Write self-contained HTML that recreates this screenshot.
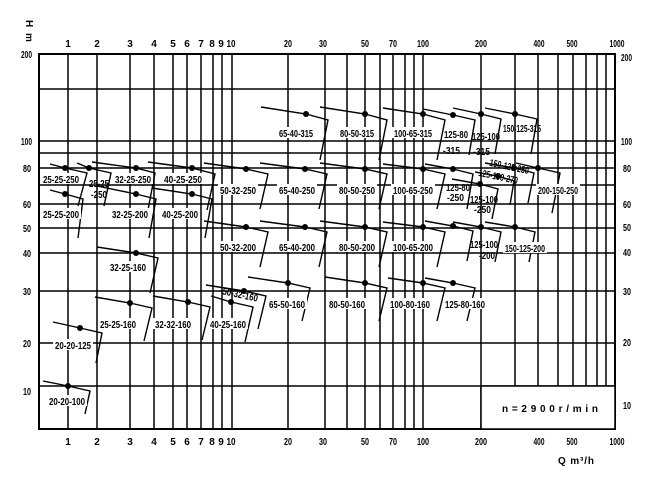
<!DOCTYPE html>
<html><head><meta charset="utf-8"><style>
html,body{margin:0;padding:0;background:#fff;}
svg{display:block;}
text{font-family:"Liberation Sans",sans-serif;font-weight:bold;font-size:10px;fill:#000;}
</style></head><body>
<svg width="650" height="488" viewBox="0 0 650 488" xmlns="http://www.w3.org/2000/svg">
<g stroke="#000" stroke-width="1.5" fill="none">
<!-- vertical grid full height -->
<path d="M68 54V429M97 54V429M130 54V429M154 54V429M173 54V429M187 54V429M201 54V429M213 54V429M222 54V429M232 54V429M288 54V429M325 54V429M347 54V429M365 54V429M380 54V429M393 54V429M405 54V429M414 54V429M423 54V429M481 54V429"/>
<path d="M515 54V386M538 54V386M558 54V386M573 54V386M586 54V386M597 54V386M606 54V386"/>
<!-- horizontal grid -->
<path d="M39 89H615M39 141H615M39 153H615M39 168H615M39 185H615M39 204H615M39 228H615M39 253H615M39 291H615M39 343H615M39 386H615"/>
</g>
<rect x="39" y="54" width="576" height="375" fill="none" stroke="#000" stroke-width="2"/>

<!-- pump curves -->
<g stroke="#000" stroke-width="1.4" fill="none">
<path d="M261 107L306 114L328 120L320 160"/>
<path d="M320 107L365 114L387 120L379 160"/>
<path d="M383 108L423 114L445 120L437 160"/>
<path d="M423 109L453 115L475 120L469 155"/>
<path d="M453 108L481 114L501 119L495 154"/>
<path d="M485 108L515 114L537 119L531 154"/>
<path d="M50 164L65 168L87 173L78 206"/>
<path d="M77 163L89 168L111 173L104 206"/>
<path d="M92 162L136 168L155 173L148 210"/>
<path d="M148 162L192 168L215 174L207 210"/>
<path d="M204 163L246 169L268 174L260 209"/>
<path d="M260 163L305 169L327 174L319 209"/>
<path d="M320 163L365 169L387 174L379 209"/>
<path d="M383 164L423 169L445 174L437 209"/>
<path d="M425 164L453 169L473 174L467 209"/>
<path d="M452 179L480 184L498 189L492 219"/>
<path d="M475 172L498 176L514 181L510 205"/>
<path d="M485 163L514 168L534 173L528 203"/>
<path d="M516 163L538 168L560 173L552 213"/>
<path d="M50 190L65 194L83 199L78 238"/>
<path d="M97 186L136 194L156 199L149 238"/>
<path d="M152 188L192 194L212 199L205 238"/>
<path d="M204 221L246 227L268 232L260 267"/>
<path d="M260 221L305 227L327 232L319 267"/>
<path d="M320 221L365 227L387 232L379 267"/>
<path d="M383 222L423 227L445 232L437 267"/>
<path d="M425 221L453 226L473 231L467 261"/>
<path d="M453 222L481 227L501 232L495 262"/>
<path d="M485 222L515 227L535 232L529 262"/>
<path d="M97 247L136 253L158 258L150 293"/>
<path d="M248 277L288 283L310 288L302 321"/>
<path d="M325 277L365 283L387 288L379 321"/>
<path d="M388 278L423 283L445 288L437 321"/>
<path d="M425 278L453 283L475 288L467 321"/>
<path d="M206 285L244 291L266 296L258 329"/>
<path d="M211 296L231 302L253 307L245 342"/>
<path d="M153 296L188 302L210 307L202 340"/>
<path d="M95 297L130 303L152 308L144 341"/>
<path d="M53 322L80 328L102 333L96 363"/>
<path d="M43 381L68 386L90 391L85 414"/>
</g>
<g fill="#000">
<circle cx="306" cy="114" r="3"/><circle cx="365" cy="114" r="3"/><circle cx="423" cy="114" r="3"/><circle cx="453" cy="115" r="3"/><circle cx="481" cy="114" r="3"/><circle cx="515" cy="114" r="3"/>
<circle cx="65" cy="168" r="3"/><circle cx="89" cy="168" r="3"/><circle cx="136" cy="168" r="3"/><circle cx="192" cy="168" r="3"/><circle cx="246" cy="169" r="3"/><circle cx="305" cy="169" r="3"/><circle cx="365" cy="169" r="3"/><circle cx="423" cy="169" r="3"/><circle cx="453" cy="169" r="3"/><circle cx="480" cy="184" r="3"/><circle cx="498" cy="176" r="3"/><circle cx="514" cy="168" r="3"/><circle cx="538" cy="168" r="3"/>
<circle cx="65" cy="194" r="3"/><circle cx="136" cy="194" r="3"/><circle cx="192" cy="194" r="3"/>
<circle cx="246" cy="227" r="3"/><circle cx="305" cy="227" r="3"/><circle cx="365" cy="227" r="3"/><circle cx="423" cy="227" r="3"/><circle cx="453" cy="226" r="3"/><circle cx="481" cy="227" r="3"/><circle cx="515" cy="227" r="3"/>
<circle cx="136" cy="253" r="3"/>
<circle cx="288" cy="283" r="3"/><circle cx="365" cy="283" r="3"/><circle cx="423" cy="283" r="3"/><circle cx="453" cy="283" r="3"/>
<circle cx="244" cy="291" r="3"/><circle cx="231" cy="302" r="3"/><circle cx="188" cy="302" r="3"/><circle cx="130" cy="303" r="3"/><circle cx="80" cy="328" r="3"/><circle cx="68" cy="386" r="3"/>
</g>

<!-- pump labels with white backing -->
<g>
<g fill="#fff">
<rect x="277" y="127" width="38" height="11"/><rect x="338" y="127" width="38" height="11"/><rect x="392" y="127" width="42" height="11"/>
<rect x="41" y="173" width="40" height="11"/><rect x="113" y="173" width="40" height="11"/><rect x="162" y="173" width="42" height="11"/>
<rect x="218" y="184" width="40" height="11"/><rect x="277" y="184" width="40" height="11"/><rect x="337" y="184" width="40" height="11"/><rect x="391" y="184" width="44" height="11"/><rect x="536" y="184" width="44" height="11"/>
<rect x="41" y="208" width="40" height="11"/><rect x="110" y="208" width="40" height="11"/><rect x="160" y="208" width="40" height="11"/>
<rect x="218" y="241" width="40" height="11"/><rect x="277" y="241" width="40" height="11"/><rect x="337" y="241" width="40" height="11"/><rect x="391" y="241" width="44" height="11"/><rect x="503" y="242" width="44" height="11"/>
<rect x="108" y="261" width="40" height="11"/>
<rect x="267" y="298" width="40" height="11"/><rect x="327" y="298" width="40" height="11"/><rect x="388" y="298" width="44" height="11"/><rect x="443" y="298" width="44" height="11"/>
<rect x="98" y="318" width="40" height="11"/><rect x="153" y="318" width="40" height="11"/><rect x="208" y="318" width="40" height="11"/>
<rect x="53" y="339" width="40" height="11"/><rect x="47" y="395" width="40" height="11"/>
</g>
<text x="279" y="137" textLength="34" lengthAdjust="spacingAndGlyphs">65-40-315</text>
<text x="340" y="137" textLength="34" lengthAdjust="spacingAndGlyphs">80-50-315</text>
<text x="394" y="137" textLength="38" lengthAdjust="spacingAndGlyphs">100-65-315</text>
<text x="444" y="138" textLength="24" lengthAdjust="spacingAndGlyphs">125-80</text>
<text x="443" y="154" textLength="17" lengthAdjust="spacingAndGlyphs">-315</text>
<text x="472" y="140" textLength="28" lengthAdjust="spacingAndGlyphs">125-100</text>
<text x="473" y="155" textLength="17" lengthAdjust="spacingAndGlyphs">-315</text>
<text x="503" y="132" textLength="38" lengthAdjust="spacingAndGlyphs">150-125-315</text>
<text x="43" y="183" textLength="36" lengthAdjust="spacingAndGlyphs">25-25-250</text>
<text x="89" y="187" textLength="20" lengthAdjust="spacingAndGlyphs">25-25</text>
<text x="91" y="198" textLength="16" lengthAdjust="spacingAndGlyphs">-250</text>
<text x="115" y="183" textLength="36" lengthAdjust="spacingAndGlyphs">32-25-250</text>
<text x="164" y="183" textLength="38" lengthAdjust="spacingAndGlyphs">40-25-250</text>
<text x="220" y="194" textLength="36" lengthAdjust="spacingAndGlyphs">50-32-250</text>
<text x="279" y="194" textLength="36" lengthAdjust="spacingAndGlyphs">65-40-250</text>
<text x="339" y="194" textLength="36" lengthAdjust="spacingAndGlyphs">80-50-250</text>
<text x="393" y="194" textLength="40" lengthAdjust="spacingAndGlyphs">100-65-250</text>
<text x="446" y="191" textLength="24" lengthAdjust="spacingAndGlyphs">125-80</text>
<text x="447" y="201" textLength="17" lengthAdjust="spacingAndGlyphs">-250</text>
<text x="470" y="203" textLength="28" lengthAdjust="spacingAndGlyphs">125-100</text>
<text x="474" y="213" textLength="17" lengthAdjust="spacingAndGlyphs">-250</text>
<text x="478" y="180" textLength="40" lengthAdjust="spacingAndGlyphs" transform="rotate(12 498 178)">125-100-270</text>
<text x="489" y="170" textLength="40" lengthAdjust="spacingAndGlyphs" transform="rotate(12 509 168)">150-125-250</text>
<text x="538" y="194" textLength="40" lengthAdjust="spacingAndGlyphs">200-150-250</text>
<text x="43" y="218" textLength="36" lengthAdjust="spacingAndGlyphs">25-25-200</text>
<text x="112" y="218" textLength="36" lengthAdjust="spacingAndGlyphs">32-25-200</text>
<text x="162" y="218" textLength="36" lengthAdjust="spacingAndGlyphs">40-25-200</text>
<text x="220" y="251" textLength="36" lengthAdjust="spacingAndGlyphs">50-32-200</text>
<text x="279" y="251" textLength="36" lengthAdjust="spacingAndGlyphs">65-40-200</text>
<text x="339" y="251" textLength="36" lengthAdjust="spacingAndGlyphs">80-50-200</text>
<text x="393" y="251" textLength="40" lengthAdjust="spacingAndGlyphs">100-65-200</text>
<text x="470" y="248" textLength="28" lengthAdjust="spacingAndGlyphs">125-100</text>
<text x="479" y="259" textLength="16" lengthAdjust="spacingAndGlyphs">-200</text>
<text x="505" y="252" textLength="40" lengthAdjust="spacingAndGlyphs">150-125-200</text>
<text x="110" y="271" textLength="36" lengthAdjust="spacingAndGlyphs">32-25-160</text>
<text x="269" y="308" textLength="36" lengthAdjust="spacingAndGlyphs">65-50-160</text>
<text x="329" y="308" textLength="36" lengthAdjust="spacingAndGlyphs">80-50-160</text>
<text x="390" y="308" textLength="40" lengthAdjust="spacingAndGlyphs">100-80-160</text>
<text x="445" y="308" textLength="40" lengthAdjust="spacingAndGlyphs">125-80-160</text>
<text x="222" y="298" textLength="36" lengthAdjust="spacingAndGlyphs" transform="rotate(12 240 296)">50-32-160</text>
<text x="100" y="328" textLength="36" lengthAdjust="spacingAndGlyphs">25-25-160</text>
<text x="155" y="328" textLength="36" lengthAdjust="spacingAndGlyphs">32-32-160</text>
<text x="210" y="328" textLength="36" lengthAdjust="spacingAndGlyphs">40-25-160</text>
<text x="55" y="349" textLength="36" lengthAdjust="spacingAndGlyphs">20-20-125</text>
<text x="49" y="405" textLength="36" lengthAdjust="spacingAndGlyphs">20-20-100</text>
</g>

<!-- axis tick labels top & bottom -->
<g text-anchor="middle">
<g transform="translate(0,47)">
<text x="68">1</text><text x="97">2</text><text x="130">3</text><text x="154">4</text><text x="173">5</text><text x="187">6</text><text x="201">7</text><text x="212">8</text><text x="221">9</text><text x="231" textLength="9" lengthAdjust="spacingAndGlyphs">10</text><text x="288" textLength="8" lengthAdjust="spacingAndGlyphs">20</text><text x="323" textLength="8" lengthAdjust="spacingAndGlyphs">30</text><text x="365" textLength="8" lengthAdjust="spacingAndGlyphs">50</text><text x="393" textLength="8" lengthAdjust="spacingAndGlyphs">70</text><text x="423" textLength="12" lengthAdjust="spacingAndGlyphs">100</text><text x="481" textLength="12" lengthAdjust="spacingAndGlyphs">200</text><text x="539" textLength="11" lengthAdjust="spacingAndGlyphs">400</text><text x="572" textLength="11" lengthAdjust="spacingAndGlyphs">500</text><text x="617" textLength="15" lengthAdjust="spacingAndGlyphs">1000</text>
</g>
<g transform="translate(0,445)">
<text x="68">1</text><text x="97">2</text><text x="130">3</text><text x="154">4</text><text x="173">5</text><text x="187">6</text><text x="201">7</text><text x="212">8</text><text x="221">9</text><text x="231" textLength="9" lengthAdjust="spacingAndGlyphs">10</text><text x="288" textLength="8" lengthAdjust="spacingAndGlyphs">20</text><text x="323" textLength="8" lengthAdjust="spacingAndGlyphs">30</text><text x="365" textLength="8" lengthAdjust="spacingAndGlyphs">50</text><text x="393" textLength="8" lengthAdjust="spacingAndGlyphs">70</text><text x="423" textLength="12" lengthAdjust="spacingAndGlyphs">100</text><text x="481" textLength="12" lengthAdjust="spacingAndGlyphs">200</text><text x="539" textLength="11" lengthAdjust="spacingAndGlyphs">400</text><text x="572" textLength="11" lengthAdjust="spacingAndGlyphs">500</text><text x="617" textLength="15" lengthAdjust="spacingAndGlyphs">1000</text>
</g>
</g>
<!-- y labels -->
<g>
<text x="21" y="58" textLength="11" lengthAdjust="spacingAndGlyphs">200</text>
<text x="21" y="145" textLength="11" lengthAdjust="spacingAndGlyphs">100</text>
<text x="23" y="172" textLength="8" lengthAdjust="spacingAndGlyphs">80</text>
<text x="23" y="208" textLength="8" lengthAdjust="spacingAndGlyphs">60</text>
<text x="23" y="232" textLength="8" lengthAdjust="spacingAndGlyphs">50</text>
<text x="23" y="257" textLength="8" lengthAdjust="spacingAndGlyphs">40</text>
<text x="23" y="295" textLength="8" lengthAdjust="spacingAndGlyphs">30</text>
<text x="23" y="347" textLength="8" lengthAdjust="spacingAndGlyphs">20</text>
<text x="23" y="395" textLength="8" lengthAdjust="spacingAndGlyphs">10</text>
<text x="621" y="61" textLength="11" lengthAdjust="spacingAndGlyphs">200</text>
<text x="621" y="145" textLength="11" lengthAdjust="spacingAndGlyphs">100</text>
<text x="623" y="172" textLength="8" lengthAdjust="spacingAndGlyphs">80</text>
<text x="623" y="208" textLength="8" lengthAdjust="spacingAndGlyphs">60</text>
<text x="623" y="231" textLength="8" lengthAdjust="spacingAndGlyphs">50</text>
<text x="623" y="256" textLength="8" lengthAdjust="spacingAndGlyphs">40</text>
<text x="623" y="295" textLength="8" lengthAdjust="spacingAndGlyphs">30</text>
<text x="623" y="346" textLength="8" lengthAdjust="spacingAndGlyphs">20</text>
<text x="623" y="409" textLength="8" lengthAdjust="spacingAndGlyphs">10</text>
</g>
<text x="24" y="26" font-size="6" transform="rotate(90 28 24)">H</text>
<text x="24" y="39" font-size="6" transform="rotate(90 28 37)">m</text>
<!-- n box -->
<rect x="481" y="386" width="134" height="43" fill="#fff" stroke="#000" stroke-width="1.5"/>
<text x="502" y="412" textLength="96" lengthAdjust="spacing" font-weight="normal">n=2900r/min</text>
<text x="558" y="464" textLength="36" lengthAdjust="spacing" font-weight="normal">Q  m³/h</text>
</svg>
</body></html>
